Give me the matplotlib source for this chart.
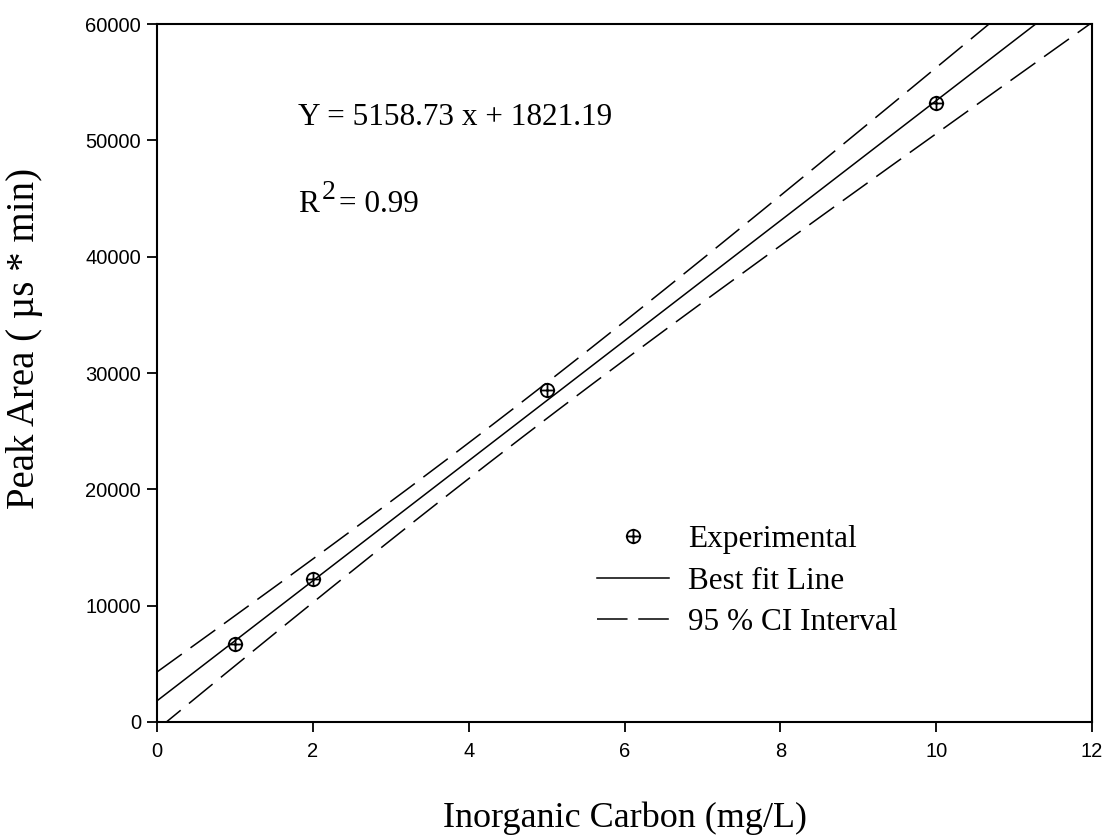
import numpy as np
import matplotlib
matplotlib.use("Agg")
import matplotlib.pyplot as plt
from matplotlib.path import Path
from matplotlib.lines import Line2D

# Calibration standards
conc = np.array([1.0, 2.0, 5.0, 10.0])            # mg/L
peak_area = np.array([6705, 12270, 28540, 53180])  # uS*min

# Regression reported on the chart
slope = 5158.73
intercept = 1821.19
r_squared = 0.99
t_crit = 4.303  # two-sided 95 %, df = n - 2 = 2

x_ticks = [0, 2, 4, 6, 8, 10, 12]
y_ticks = [0, 10000, 20000, 30000, 40000, 50000, 60000]

# Confidence band of the fitted line
x_line = np.linspace(0, 12, 400)
y_fit = slope * x_line + intercept
resid = peak_area - (slope * conc + intercept)
s_err = np.sqrt(np.sum(resid ** 2) / (len(conc) - 2))
sxx = np.sum((conc - conc.mean()) ** 2)
half = t_crit * s_err * np.sqrt(1 / len(conc) + (x_line - conc.mean()) ** 2 / sxx)

serif = "Liberation Serif"
sans = "Liberation Sans"

fig = plt.figure(figsize=(11.13, 8.4), dpi=100)
ax = fig.add_axes([0.1411, 0.1405, 0.8400, 0.8309])

# circle-with-cross marker
circ = Path.unit_circle()
cross = Path([[-1.15, 0], [1.15, 0], [0, -1.15], [0, 1.15]],
             [Path.MOVETO, Path.LINETO, Path.MOVETO, Path.LINETO])
ocross = Path.make_compound_path(circ, cross)

lw = 1.1
dash = (20, 7)
ax.plot(x_line, y_fit, color="black", lw=lw)
ax.plot(x_line, y_fit + half, color="black", lw=lw, dashes=dash)
ax.plot(x_line, y_fit - half, color="black", lw=lw, dashes=dash)
ax.plot(conc, peak_area, linestyle="none", marker=ocross, markersize=11,
        markerfacecolor="none", markeredgecolor="black", markeredgewidth=1.3)

ax.set_xlim(0, 12)
ax.set_ylim(0, 60000)
ax.set_xticks(x_ticks)
ax.set_yticks(y_ticks)
ax.tick_params(direction="out", length=7.5, width=1.3, labelsize=14.5, pad=4)
ax.tick_params(axis="x", pad=7)
for lab in ax.get_xticklabels() + ax.get_yticklabels():
    lab.set_fontfamily(sans)
for sp in ax.spines.values():
    sp.set_linewidth(1.5)

ax.set_xlabel("Inorganic Carbon (mg/L)", fontfamily=serif, fontsize=26)
ax.xaxis.set_label_coords(0.5, -0.114)
ax.set_ylabel("Peak Area ( \u00b5s * min)", fontfamily=serif, fontsize=28)
ax.yaxis.set_label_coords(-0.122, 0.55)

ax.text(1.81, 51320, f"Y = {slope:.2f} x + {intercept:.2f}",
        fontfamily=serif, fontsize=22.5, va="baseline")
ax.text(1.81, 43840, "R", fontfamily=serif, fontsize=22.5, va="baseline")
ax.text(2.11, 45000, "2", fontfamily=serif, fontsize=20, va="baseline")
ax.text(2.34, 43840, f"= {r_squared:.2f}", fontfamily=serif, fontsize=22.5,
        va="baseline")

handles = [
    Line2D([], [], linestyle="none", marker=ocross, markersize=11,
           markerfacecolor="none", markeredgecolor="black", markeredgewidth=1.3),
    Line2D([], [], color="black", lw=lw),
    Line2D([], [], color="black", lw=lw, dashes=dash),
]
labels = ["Experimental", "Best fit Line", "95 % CI Interval"]
ax.legend(handles, labels, loc="upper left", bbox_to_anchor=(0.4706, 0.282),
          frameon=False, prop={"family": serif, "size": 22.5},
          borderpad=0, borderaxespad=0,
          handlelength=2.3, handletextpad=0.62, labelspacing=0.4)

fig.savefig("out.png", dpi=100)
